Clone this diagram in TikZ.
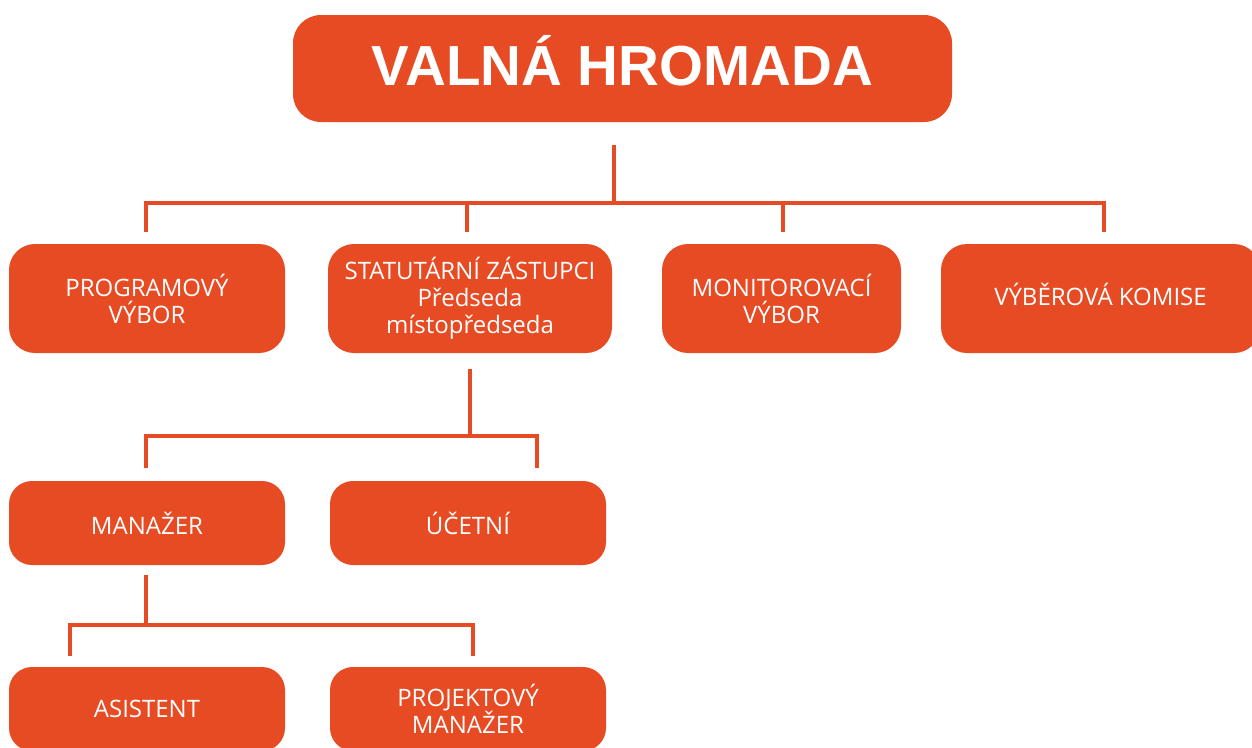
\documentclass[tikz,border=0pt]{standalone}
\usepackage{fontspec}
\setmainfont{Open Sans}
\newfontfamily\titlefont{Liberation Sans}
\definecolor{org}{RGB}{230,75,35}
\begin{document}
\begin{tikzpicture}[x=1pt,y=-1pt,
  box/.style={fill=org, rounded corners=26pt, minimum height=109pt, inner sep=0pt,
    text=white, align=center, font=\fontsize{24}{27}\selectfont},
  lowbox/.style={box, minimum width=276pt, minimum height=84pt, rounded corners=23pt},
  conn/.style={draw=org, line width=3.5pt}]
\useasboundingbox (0,0) rectangle (1252,747);
\clip (0,0) rectangle (1252,747);

% top
\node[box, minimum width=659pt, minimum height=107pt, rounded corners=28pt,
  font=\titlefont\bfseries\fontsize{56.5}{60}\selectfont, text height=40pt, text depth=7pt]
  (vh) at (622.5,68.5) {VALNÁ HROMADA};

% second row
\node[box, minimum width=276pt] (pv) at (147,298.5) {PROGRAMOVÝ\\VÝBOR};
\node[box, minimum width=284pt] (sz) at (470,298.5) {STATUTÁRNÍ ZÁSTUPCI\\Předseda\\místopředseda};
\node[box, minimum width=239pt] (mv) at (781.5,298.5) {MONITOROVACÍ\\VÝBOR};
\node[box, minimum width=319pt, text depth=8pt] (vk) at (1100.5,298.5) {VÝBĚROVÁ KOMISE};

% third row
\node[lowbox] (man) at (147,523) {MANAŽER};
\node[lowbox] (uc) at (468,523) {ÚČETNÍ};

% fourth row
\node[lowbox] (as) at (147,709) {ASISTENT};
\node[lowbox] (pm) at (468,709) {PROJEKTOVÝ\\MANAŽER};

% connectors level 1
\coordinate (vhs) at (614,145);
\coordinate (bus1) at (614,203);
\coordinate (d1) at (146,232);
\coordinate (d2) at (467,232);
\coordinate (d3) at (783,232);
\coordinate (d4) at (1104,232);
\draw[conn] (vhs) -- (bus1);
\draw[conn] (d1) |- (bus1) -| (d4);
\draw[conn] (d2) -- (d2 |- bus1);
\draw[conn] (d3) -- (d3 |- bus1);

% connectors level 2
\coordinate (szs) at (470,369);
\coordinate (bus2) at (470,436);
\coordinate (e1) at (146,468);
\coordinate (e2) at (537,468);
\draw[conn] (szs) -- (bus2);
\draw[conn] (e1) |- (bus2) -| (e2);

% connectors level 3
\coordinate (mans) at (146,575);
\coordinate (bus3) at (146,625);
\coordinate (f1) at (70,656);
\coordinate (f2) at (473,656);
\draw[conn] (mans) -- (bus3);
\draw[conn] (f1) |- (bus3) -| (f2);
\end{tikzpicture}
\end{document}
